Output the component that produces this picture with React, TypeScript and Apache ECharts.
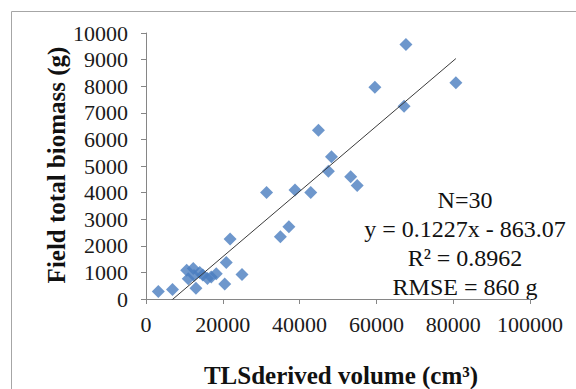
import React, { useEffect, useRef } from "react";
import * as echarts from "echarts";

const volumeCm3: number[] = [
  3200, 6900, 10600, 11000, 12300, 12500, 13000, 14000, 14800, 16000,
  17000, 18300, 20500, 20900, 21900, 25000, 31400, 35000, 37200, 38800,
  42900, 44900, 47500, 48300, 53300, 55000, 59600, 67200, 67700, 80700,
];
const biomassG: number[] = [
  280, 360, 1080, 760, 1150, 880, 400, 1000, 900, 770,
  830, 950, 560, 1370, 2260, 920, 4000, 2340, 2720, 4100,
  4000, 6340, 4800, 5350, 4600, 4270, 7960, 7250, 9570, 8130,
];
const slope = 0.1227;
const intercept = -863.07;
const annotationLines: string[] = [
  "N=30",
  "y = 0.1227x - 863.07",
  "R\u00B2 = 0.8962",
  "RMSE = 860 g",
];
const xTitle = "TLSderived volume (cm\u00B3)";
const yTitle = "Field total biomass (g)";

export default function App() {
  const ref = useRef<HTMLDivElement>(null);
  useEffect(() => {
    document.body.style.margin = "0";
    const chart = echarts.init(ref.current!, null, { renderer: "svg" });
    const points = volumeCm3.map((v, i) => [v, biomassG[i]]);
    const xMin = Math.min(...volumeCm3);
    const xMax = Math.max(...volumeCm3);
    const trend = [
      [xMin, slope * xMin + intercept],
      [xMax, slope * xMax + intercept],
    ];
    const serif = "'Liberation Serif', 'Times New Roman', serif";
    const plain = (v: number) => String(v);
    chart.setOption({
      animation: false,
      backgroundColor: "#ffffff",
      grid: { left: 146, top: 33, width: 384, height: 266, containLabel: false },
      xAxis: {
        type: "value",
        min: 0,
        max: 100000,
        interval: 20000,
        axisLine: { show: true, lineStyle: { color: "#868686", width: 1 } },
        axisTick: { show: true, length: 5, lineStyle: { color: "#868686" } },
        splitLine: { show: false },
        axisLabel: { fontFamily: serif, fontSize: 22, color: "#1a1a1a", margin: 14, formatter: plain },
      },
      yAxis: {
        type: "value",
        min: 0,
        max: 10000,
        interval: 1000,
        axisLine: { show: true, lineStyle: { color: "#868686", width: 1 } },
        axisTick: { show: true, length: 5, lineStyle: { color: "#868686" } },
        splitLine: { show: false },
        axisLabel: { fontFamily: serif, fontSize: 22, color: "#1a1a1a", margin: 18, formatter: plain },
      },
      series: [
        {
          type: "scatter",
          data: points,
          symbol: "diamond",
          symbolSize: 13,
          itemStyle: { color: "#4a7dbf" },
          z: 2,
        },
        {
          type: "line",
          data: trend,
          showSymbol: false,
          symbol: "none",
          clip: true,
          lineStyle: { color: "#3a3a3a", width: 1 },
          z: 3,
        },
      ],
      graphic: [
        {
          type: "rect",
          shape: { x: 11.5, y: 11.5, width: 700, height: 500 },
          style: { fill: "none", stroke: "#a6a6a6", lineWidth: 1 },
          silent: true,
        },
        {
          type: "text",
          x: 341,
          y: 375,
          style: {
            text: xTitle,
            font: `bold 25px ${serif}`,
            fill: "#111111",
            textAlign: "center",
            textVerticalAlign: "middle",
          },
        },
        {
          type: "text",
          x: 56,
          y: 165,
          rotation: Math.PI / 2,
          style: {
            text: yTitle,
            font: `bold 25px ${serif}`,
            fill: "#111111",
            textAlign: "center",
            textVerticalAlign: "middle",
          },
        },
        ...annotationLines.map((t, i) => ({
          type: "text",
          x: 465,
          y: 200 + i * 29,
          style: {
            text: t,
            font: `24px ${serif}`,
            fill: "#111111",
            textAlign: "center",
            textVerticalAlign: "middle",
          },
        })),
      ],
    });
    return () => chart.dispose();
  }, []);
  return (
    <div
      ref={ref}
      style={{ position: "absolute", left: 0, top: 0, width: 576, height: 389 }}
    />
  );
}
